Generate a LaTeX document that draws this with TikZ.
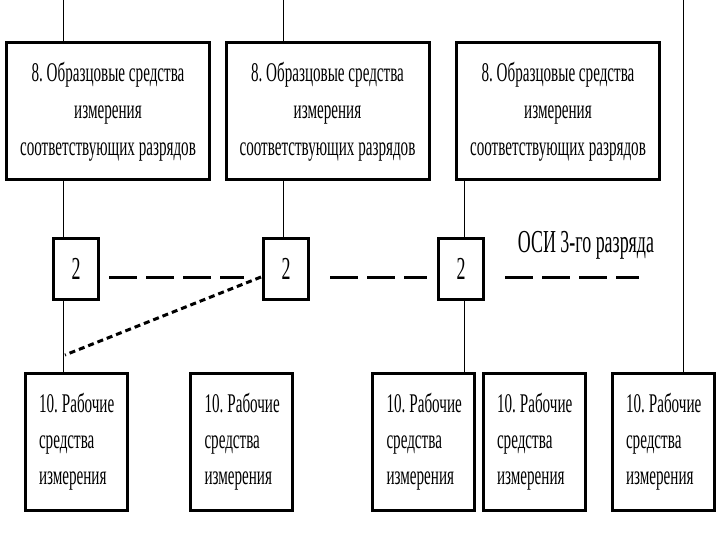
\documentclass[tikz,border=0pt]{standalone}
\usepackage{fontspec}
\setmainfont{Liberation Serif}[FakeStretch=0.56]
\newcommand{\workline}{\mbox{10.\kern4pt Рабочие}}
\begin{document}
\frenchspacing
\hbadness=10000 \hfuzz=100pt
\begin{tikzpicture}[x=1pt,y=-1pt,
  big/.style={draw, line width=3pt, minimum width=203pt, minimum height=137pt, inner sep=0pt, align=center, font=\fontsize{27}{37}\selectfont},
  small/.style={draw, line width=3pt, minimum width=45pt, minimum height=61pt, inner sep=0pt, font=\fontsize{32}{32}\selectfont},
  work/.style={draw, line width=3pt, minimum width=102pt, minimum height=137pt, inner sep=0pt, text width=74pt, align=left, font=\fontsize{27}{36}\selectfont},
  conn/.style={line width=1pt},
  axis/.style={line width=3pt, dash pattern=on 28pt off 9pt},
  diag/.style={line width=3pt, dash pattern=on 6pt off 4pt}]
\useasboundingbox (0,0) rectangle (720,540);
% top boxes
\node[big] (b1) at (108,111.5) {8. Образцовые средства\\измерения\\соответствующих разрядов};
\node[big] (b2) at (327.5,111.5) {8. Образцовые средства\\измерения\\соответствующих разрядов};
\node[big] (b3) at (558,111.5) {8. Образцовые средства\\измерения\\соответствующих разрядов};
% small boxes
\node[small] (s1) at (76,268.5) {2};
\node[small] (s2) at (286,268.5) {2};
\node[small] (s3) at (461,268.5) {2};
% bottom boxes
\node[work] (w1) at (76,441.5) {\workline\\средства\\измерения};
\node[work] (w2) at (241.5,441.5) {\workline\\средства\\измерения};
\node[work] (w3) at (423.5,441.5) {\workline\\средства\\измерения};
\node[work] (w4) at (534,441.5) {\workline\\средства\\измерения};
\node[work] (w5) at (663,441.5) {\workline\\средства\\измерения};
% label
\node[font=\fontsize{32}{32}\selectfont] (osi) at (586,245) {ОСИ 3-го разряда};
% free ends
\coordinate (t1) at (63,0);
\coordinate (t2) at (283,0);
\coordinate (t3) at (464,0);
\coordinate (t5) at (683,0);
\coordinate (axend) at (639,277);
\coordinate (d2) at (261,277);
\coordinate (d1) at (65,355);
% vertical connectors
\draw[conn] (t1) -- (t1 |- b1.north);
\draw[conn] (b1.south -| t1) -- (s1.north -| t1);
\draw[conn] (s1.south -| t1) -- (w1.north -| t1);
\draw[conn] (t2) -- (t2 |- b2.north);
\draw[conn] (b2.south -| t2) -- (s2.north -| t2);
\draw[conn] (b3.south -| t3) -- (s3.north -| t3);
\draw[conn] (s3.south -| t3) -- (w3.north -| t3);
\draw[conn] (t5) -- (t5 |- w5.north);
% dashed axis
\draw[axis] (s1.east |- d2) ++(9,0) -- ([xshift=-18pt]s2.west |- d2);
\draw[axis] ([xshift=20pt]s2.east |- d2) -- ([xshift=-10pt]s3.west |- d2);
\draw[axis] ([xshift=20pt]s3.east |- d2) -- (axend);
% diagonal
\draw[diag] (d2) -- (d1);
\end{tikzpicture}
\end{document}
